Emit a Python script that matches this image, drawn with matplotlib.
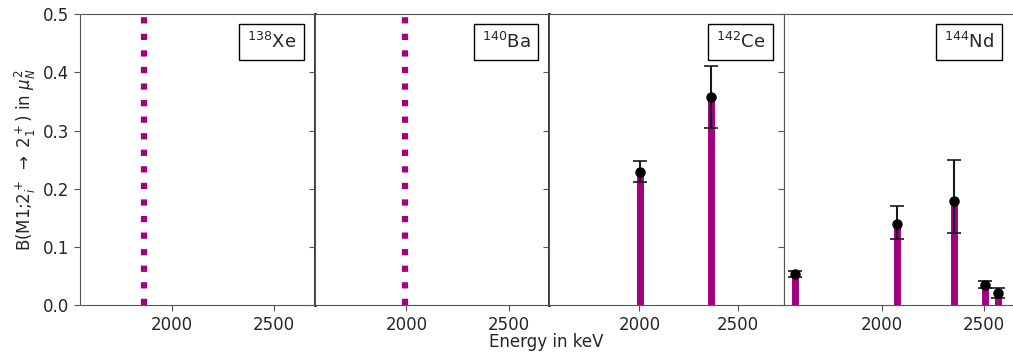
#!/usr/bin/env python3
# -*- coding: utf-8 -*-
"""
B(M1) strengths for 2+ states in the N=84 isotones
"""

import matplotlib.pyplot as plt

BAR_COLOR = "#a3007f"
TEXT_COLOR = "#262626"

# Panel labels
NUCLEI = [r"$^{138}$Xe", r"$^{140}$Ba", r"$^{142}$Ce", r"$^{144}$Nd"]

# Levels without measured strength (dotted marker)
XE_EMPTY = [1865]
BA_EMPTY = [1995]

# 142Ce
CE_ENERGY = [2005, 2364]
CE_BM1 = [0.229, 0.357]
CE_ERR_LO = [0.018, 0.052]
CE_ERR_HI = [0.019, 0.054]

# 144Nd
ND_ENERGY = [1576, 2074, 2352, 2508, 2569]
ND_BM1 = [0.054, 0.140, 0.179, 0.034, 0.021]
ND_ERR_LO = [0.005, 0.026, 0.055, 0.005, 0.008]
ND_ERR_HI = [0.004, 0.030, 0.071, 0.007, 0.008]

XLIMS = [(1552, 2700), (1554, 2697), (1542, 2732), (1522, 2638)]

plt.rcParams["text.color"] = TEXT_COLOR
plt.rcParams["xtick.color"] = TEXT_COLOR
plt.rcParams["ytick.color"] = TEXT_COLOR
plt.rcParams["axes.labelcolor"] = TEXT_COLOR
plt.rcParams["axes.edgecolor"] = "#555555"

fig = plt.figure(figsize=(10.13, 3.56), dpi=100)
gs = fig.add_gridspec(
    1, 4, width_ratios=[235, 234, 235, 228], wspace=0,
    left=0.079, right=0.999, top=0.960, bottom=0.143,
)
axes = [fig.add_subplot(gs[0, i]) for i in range(4)]


def draw_bars(ax, energy, value, lo, hi):
    ax.vlines(energy, 0, value, color=BAR_COLOR, linewidth=5, zorder=2)
    ax.errorbar(
        energy, value, yerr=[lo, hi], fmt="o", color="black",
        ecolor="#1a1a1a", markersize=6.5, elinewidth=1.5, capsize=5,
        capthick=1.2, zorder=3,
    )


for e in XE_EMPTY:
    axes[0].axvline(e, color=BAR_COLOR, linewidth=4.5, linestyle=(0, (1, 1.65)))
for e in BA_EMPTY:
    axes[1].axvline(e, color=BAR_COLOR, linewidth=4.5, linestyle=(0, (1, 1.65)))
draw_bars(axes[2], CE_ENERGY, CE_BM1, CE_ERR_LO, CE_ERR_HI)
draw_bars(axes[3], ND_ENERGY, ND_BM1, ND_ERR_LO, ND_ERR_HI)

for i, ax in enumerate(axes):
    ax.set_xlim(*XLIMS[i])
    ax.set_ylim(0, 0.5)
    ax.set_xticks([2000, 2500])
    ax.tick_params(labelsize=12, length=4, width=0.8, color="#555555")
    if i > 0:
        ax.tick_params(labelleft=False)
    ax.text(
        0.92, 0.94, NUCLEI[i], transform=ax.transAxes, ha="right", va="top",
        fontsize=13,
        bbox=dict(boxstyle="square,pad=0.45", fc="white", ec="black", lw=1.0),
    )

# dickere Trennlinien tussen de eerste panelen
for ax in axes[:2]:
    ax.spines["right"].set_linewidth(2.0)
    ax.spines["right"].set_color("#222222")
    ax.spines["right"].set_zorder(5)
axes[3].spines["right"].set_visible(False)

axes[0].set_yticks([0.0, 0.1, 0.2, 0.3, 0.4, 0.5])
axes[0].set_ylabel(
    r"B(M1;2$_i^+$ $\rightarrow$ 2$_1^+$) in $\mu_N^2$", fontsize=12
)
fig.text(0.539, 0.015, "Energy in keV", ha="center", va="bottom", fontsize=12)

plt.savefig("out.png", dpi=100)
